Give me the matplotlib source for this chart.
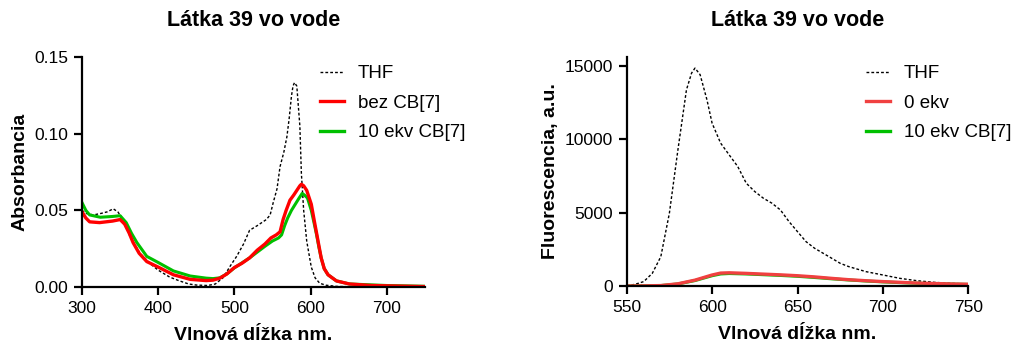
import matplotlib
matplotlib.use("Agg")
import matplotlib.pyplot as plt

plt.rcParams['font.family'] = ['Liberation Sans', 'DejaVu Sans']

# Absorbance data
abs_thf_x = [300, 305, 315, 325, 333, 341, 347, 354, 363, 376, 390, 400, 415, 428, 440, 450, 465, 475, 485, 495, 503, 512,
             520, 530, 542, 547, 551, 556, 560, 565, 569, 572, 575, 577, 579, 582, 586, 588, 591, 595, 601, 606, 612, 620, 635, 660, 700, 750]
abs_thf_y = [0.050, 0.048, 0.047, 0.048, 0.049, 0.051, 0.049, 0.044, 0.033, 0.022, 0.015, 0.011, 0.0065, 0.004, 0.002, 0.0013, 0.001, 0.002, 0.006, 0.014, 0.020, 0.028,
             0.037, 0.040, 0.044, 0.047, 0.055, 0.064, 0.0785, 0.088, 0.098, 0.110, 0.1246, 0.131, 0.1333, 0.131, 0.105, 0.074, 0.050, 0.030, 0.013, 0.006, 0.0025, 0.0012, 0.0004, 0.0001, 0.0, 0.0]

abs_red_x = [300, 305, 310, 323, 340, 350, 356, 362, 367, 375, 385, 400, 420, 442, 463, 472, 481, 490, 500, 510, 520, 530, 540,
             548, 555, 560, 564, 568, 573, 578, 582, 586, 588, 591, 595, 601, 605, 608, 611, 614, 618, 623, 634, 651, 680, 750]
abs_red_y = [0.049, 0.045, 0.0425, 0.042, 0.043, 0.044, 0.041, 0.035, 0.029, 0.022, 0.0166, 0.013, 0.008, 0.005, 0.0042, 0.0045, 0.0058, 0.0085, 0.0127, 0.0155, 0.019, 0.024, 0.028,
             0.032, 0.034, 0.036, 0.044, 0.050, 0.0566, 0.060, 0.063, 0.066, 0.067, 0.066, 0.063, 0.054, 0.043, 0.035, 0.027, 0.019, 0.012, 0.008, 0.004, 0.002, 0.001, 0.0003]

abs_grn_x = [300, 305, 310, 324, 340, 350, 358, 365, 372, 385, 400, 420, 442, 463, 472, 481, 490, 500, 520, 540,
             550, 558, 562, 566, 570, 575, 580, 585, 589, 592, 596, 601, 605, 608, 611, 614, 618, 623, 634, 651, 700, 750]
abs_grn_y = [0.055, 0.050, 0.047, 0.0455, 0.046, 0.0465, 0.042, 0.035, 0.029, 0.020, 0.016, 0.0105, 0.0072, 0.0058, 0.0055, 0.006, 0.0085, 0.0125, 0.019, 0.0265,
             0.030, 0.032, 0.034, 0.040, 0.045, 0.050, 0.054, 0.058, 0.061, 0.060, 0.058, 0.050, 0.041, 0.034, 0.026, 0.019, 0.012, 0.008, 0.004, 0.002, 0.001, 0.0005]

# Fluorescence data
fl_thf_x = [550, 555, 560, 565, 570, 575, 580, 585, 588, 590, 593, 597, 600, 605, 610, 615, 620, 625, 630, 635, 640, 645, 650,
            655, 660, 665, 670, 675, 680, 690, 700, 710, 720, 730, 740, 750]
fl_thf_y = [0, 120, 300, 860, 2000, 4950, 9270, 13360, 14500, 14840, 14390, 12680, 11090, 9730, 8930, 8140, 7000, 6430, 5980, 5640, 5180, 4390, 3700,
            3020, 2570, 2230, 1890, 1545, 1320, 980, 750, 520, 360, 250, 180, 140]

fl_red_x = [550, 560, 570, 580, 590, 600, 605, 610, 620, 630, 640, 650, 660, 670, 680, 690, 700, 710, 720, 730, 740, 750]
fl_red_y = [0, 10, 30, 150, 400, 750, 880, 900, 860, 810, 760, 700, 620, 520, 430, 360, 300, 250, 200, 170, 140, 120]
fl_grn_y = [0, 10, 30, 140, 370, 700, 820, 850, 820, 770, 720, 660, 580, 490, 410, 340, 280, 230, 190, 160, 130, 110]

abs_xticks = [300, 400, 500, 600, 700]
abs_yticks = [0.00, 0.05, 0.10, 0.15]
fl_xticks = [550, 600, 650, 700, 750]
fl_yticks = [0, 5000, 10000, 15000]

title = "Látka 39 vo vode"
xlabel = "Vlnová dĺžka nm."

fig = plt.figure(figsize=(10.14, 3.45), dpi=100)
ax1 = fig.add_axes([0.0809, 0.168, 0.338, 0.667])
ax2 = fig.add_axes([0.618, 0.171, 0.337, 0.664])

ax1.plot(abs_thf_x, abs_thf_y, color='black', ls=(0, (2, 1.5)), lw=1.0, label='THF')
ax1.plot(abs_grn_x, abs_grn_y, color='#00c000', lw=2.2, label='_g')
ax1.plot(abs_red_x, abs_red_y, color='#ff0000', lw=2.4, label='bez CB[7]')
ax1.plot([], [], color='#00c000', lw=2.4, label='10 ekv CB[7]')
ax1.set_xlim(300, 750)
ax1.set_ylim(0, 0.15)
ax1.set_xticks(abs_xticks)
ax1.set_yticks(abs_yticks)
ax1.set_yticklabels([f"{v:.2f}" for v in abs_yticks])
ax1.set_ylabel("Absorbancia", fontsize=14, fontweight='bold', labelpad=4)

ax2.plot(fl_thf_x, fl_thf_y, color='black', ls=(0, (2, 1.5)), lw=1.0, label='THF')
ax2.plot(fl_red_x, fl_grn_y, color='#00c000', lw=2.2, label='_g')
ax2.plot(fl_red_x, fl_red_y, color='#f04040', lw=2.4, label='0 ekv')
ax2.plot([], [], color='#00c000', lw=2.4, label='10 ekv CB[7]')
ax2.set_xlim(550, 750)
ax2.set_ylim(0, 15600)
ax2.set_xticks(fl_xticks)
ax2.set_yticks(fl_yticks)
ax2.set_ylabel("Fluorescencia, a.u.", fontsize=14, fontweight='bold', labelpad=4)

legend_anchor = {ax1: (320 / 1014, 1 - 65 / 345), ax2: (866 / 1014, 1 - 65 / 345)}

for ax in (ax1, ax2):
    for s in ('top', 'right'):
        ax.spines[s].set_visible(False)
    for s in ('left', 'bottom'):
        ax.spines[s].set_linewidth(1.6)
    ax.tick_params(direction='out', length=6, width=1.6, labelsize=12.5, pad=4)
    ax.set_title(title, fontsize=15.5, fontweight='bold', pad=22)
    ax.set_xlabel(xlabel, fontsize=14, fontweight='bold', labelpad=8)
    ax.legend(loc='upper left', bbox_to_anchor=legend_anchor[ax], bbox_transform=fig.transFigure,
              frameon=False, fontsize=13.5, borderpad=0, borderaxespad=0,
              handlelength=1.3, labelspacing=0.66, handletextpad=0.7)

fig.savefig("out.png", dpi=100)
